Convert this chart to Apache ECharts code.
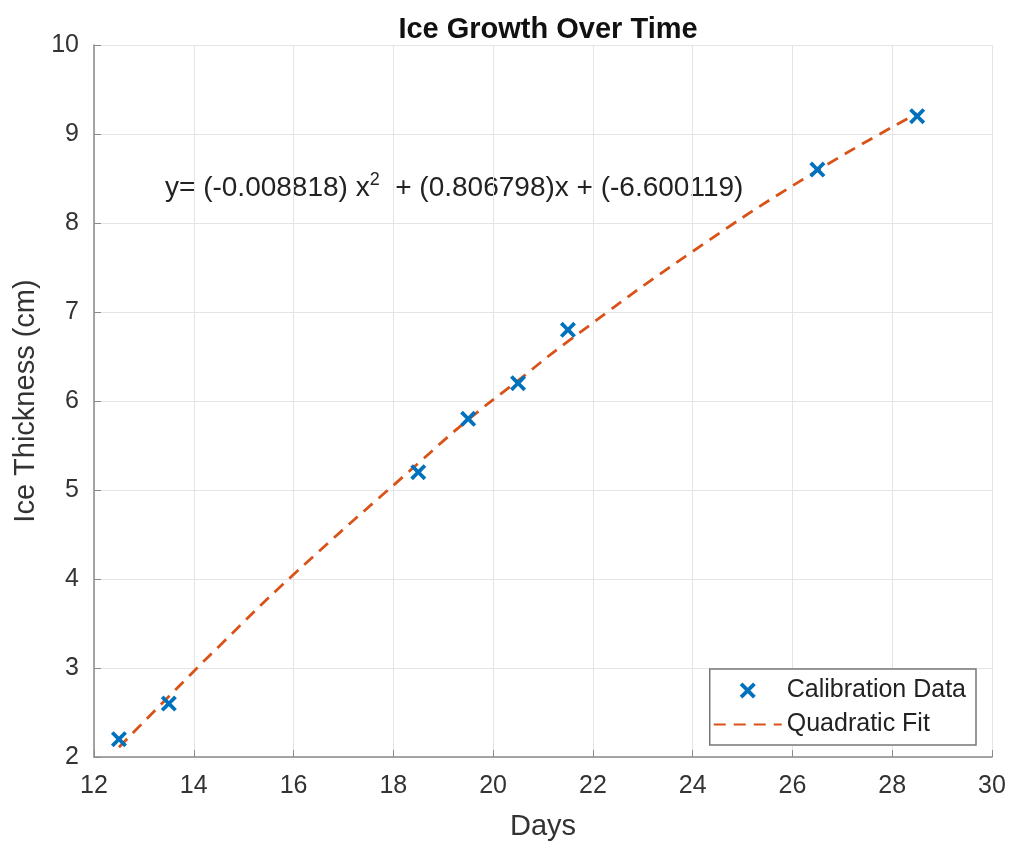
<!DOCTYPE html>
<html><head><meta charset="utf-8">
<script src="https://cdn.jsdelivr.net/npm/echarts@6/dist/echarts.min.js"></script>
<style>html,body{margin:0;padding:0;background:#fff}#c{width:1011px;height:846px}</style>
</head><body><div id="c"></div>
<script>
const calDays = [12.5, 13.5, 18.5, 19.5, 20.5, 21.5, 26.5, 28.5];
const calThickness = [2.2, 2.6, 5.2, 5.8, 6.2, 6.8, 8.6, 9.2];
const fitDays = [12.5, 13.5, 14.5, 16, 18.5, 19.5, 20.5, 21.5, 24, 26.5, 28.5];
const fitThickness = [2.11, 2.68, 3.24, 4.05, 5.30, 5.79, 6.23, 6.67, 7.68, 8.59, 9.23];
const xTicks = [12, 14, 16, 18, 20, 22, 24, 26, 28, 30];
const yTicks = [2, 3, 4, 5, 6, 7, 8, 9, 10];

const font = 'Liberation Sans, Arial, sans-serif';
const xMark = 'path://M2,0 L6,4 L10,0 L12,2 L8,6 L12,10 L10,12 L6,8 L2,12 L0,10 L4,6 L0,2 Z';
const chart = echarts.init(document.getElementById('c'));
chart.setOption({
  animation: false,
  backgroundColor: '#fff',
  title: { text: 'Ice Growth Over Time', left: 543, textAlign: 'center', top: 10,
    textStyle: { fontFamily: font, fontSize: 29, fontWeight: 'bold', color: '#111' } },
  grid: { left: 94, right: 19, top: 45, bottom: 89 },
  xAxis: { type: 'value', min: xTicks[0], max: xTicks[xTicks.length-1], interval: 2,
    name: 'Days', nameLocation: 'middle', nameGap: 55,
    nameTextStyle: { fontFamily: font, fontSize: 29, color: '#333' },
    axisLine: { show: true, lineStyle: { color: '#8a8a8a', width: 1.5 } },
    axisTick: { show: true, inside: true, length: 7, lineStyle: { color: '#8a8a8a' } },
    axisLabel: { fontFamily: font, fontSize: 25, color: '#333', margin: 17 },
    splitLine: { show: true, lineStyle: { color: '#e4e4e4' } } },
  yAxis: { type: 'value', min: yTicks[0], max: yTicks[yTicks.length-1], interval: 1,
    name: 'Ice Thickness (cm)', nameLocation: 'middle', nameGap: 53,
    nameTextStyle: { fontFamily: font, fontSize: 29, color: '#333' },
    axisLine: { show: true, lineStyle: { color: '#8a8a8a', width: 1.5 } },
    axisTick: { show: true, inside: true, length: 7, lineStyle: { color: '#8a8a8a' } },
    axisLabel: { fontFamily: font, fontSize: 25, color: '#333', margin: 15 },
    splitLine: { show: true, lineStyle: { color: '#e4e4e4' } } },
  legend: { right: 35, bottom: 101, orient: 'vertical', backgroundColor: '#fff',
    borderColor: '#777', borderWidth: 1.5, padding: [9, 10, 8, 3], itemGap: 9,
    itemWidth: 68, itemHeight: 16,
    textStyle: { fontFamily: font, fontSize: 25, color: '#222' },
    data: [ { name: 'Calibration Data', icon: xMark, itemStyle: { color: '#0072BD' } },
            { name: 'Quadratic Fit', itemStyle: { opacity: 0 } } ] },
  series: [
    { name: 'Quadratic Fit', type: 'line', data: fitDays.map((d, i) => [d, fitThickness[i]]),
      symbol: 'none', smooth: true, lineStyle: { color: '#D95319', width: 2.8, type: [12, 8] },
      itemStyle: { color: '#D95319' }, z: 3 },
    { name: 'Calibration Data', type: 'scatter', data: calDays.map((d, i) => [d, calThickness[i]]),
      symbol: xMark, symbolSize: 16, itemStyle: { color: '#0072BD', opacity: 1 }, z: 4 }
  ],
  graphic: [{ type: 'text', left: 165, top: 171,
    style: { rich: { n: { fontFamily: font, fontSize: 28, fill: '#222' },
                     s: { fontFamily: font, fontSize: 18, fill: '#222', verticalAlign: 'top', padding: [0,0,16,0] } },
      text: '{n|y= (-0.008818) x}{s|2}{n|  + (0.806798)x + (-6.600119)}' } }]
});
</script></body></html>
